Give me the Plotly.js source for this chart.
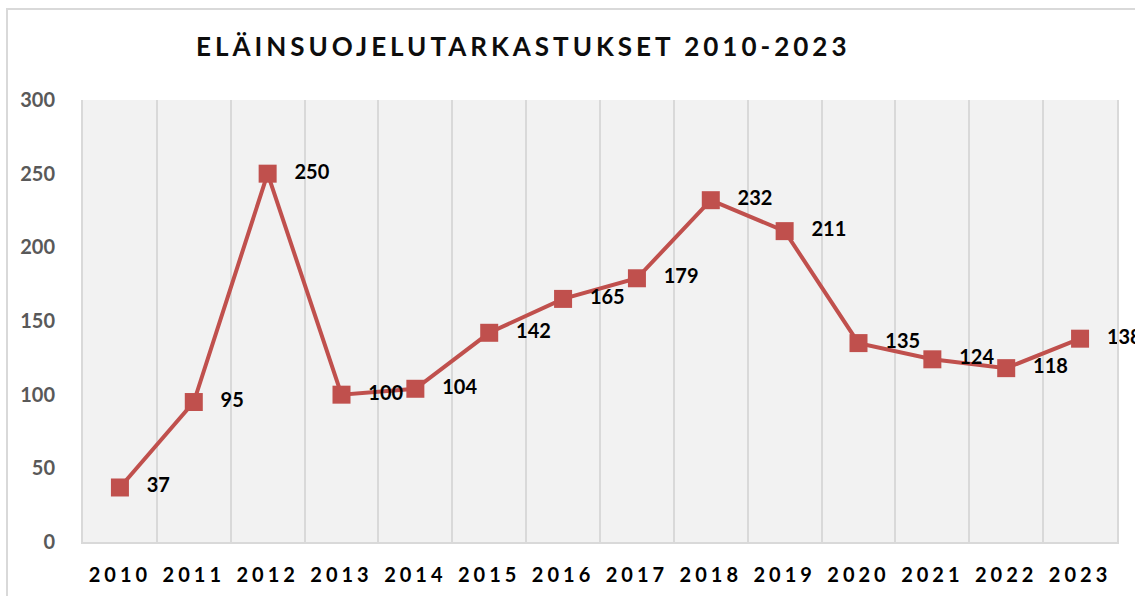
<!DOCTYPE html>
<html>
<head>
<meta charset="utf-8">
<script src="https://cdn.plot.ly/plotly-3.0.1.min.js"></script>
<style>
  html, body { margin: 0; padding: 0; background: #ffffff; }
  #wrap { position: relative; width: 1135px; height: 596px; overflow: hidden; }
  #frame { position: absolute; left: 6px; top: 8px; width: 1200px; height: 700px;
           border-left: 2px solid #d9d9d9; border-top: 2px solid #d9d9d9; box-sizing: border-box; }
  #chart { position: absolute; left: 0; top: 0; width: 1135px; height: 596px; }
  .xtick text { letter-spacing: 4px; }
  .gtitle { letter-spacing: 4px; }
</style>
</head>
<body>
<div id="wrap">
  <div id="frame"></div>
  <div id="chart"></div>
</div>
<script>
const years = ["2010","2011","2012","2013","2014","2015","2016","2017","2018","2019","2020","2021","2022","2023"];
const inspections = [37, 95, 250, 100, 104, 142, 165, 179, 232, 211, 135, 124, 118, 138];
const yTicks = [0, 50, 100, 150, 200, 250, 300];
const chartTitle = "ELÄINSUOJELUTARKASTUKSET 2010-2023";

const idx = years.map((_, i) => i);
const red = "#C0504D";
const pad = "\u00a0\u00a0\u00a0";

const trace = {
  x: idx,
  y: inspections,
  type: "scatter",
  mode: "lines+markers+text",
  line: { color: red, width: 4 },
  marker: { symbol: "square", size: 18, color: red },
  text: inspections.map(v => pad + String(v)),
  textposition: "middle right",
  textfont: { family: "Lato, 'Open Sans', sans-serif", size: 20, color: "#000000", weight: 700 },
  cliponaxis: false,
  hoverinfo: "skip"
};

const layout = {
  width: 1135,
  height: 596,
  margin: { l: 83, r: 18, t: 100, b: 54 },
  paper_bgcolor: "rgba(0,0,0,0)",
  plot_bgcolor: "#f2f2f2",
  showlegend: false,
  title: {
    text: chartTitle,
    font: { family: "Lato, 'Open Sans', sans-serif", size: 26, color: "#0d0d0d", weight: 700 },
    xref: "container", x: 0.461, xanchor: "center",
    yref: "container", y: 1 - 47 / 596, yanchor: "middle"
  },
  xaxis: {
    type: "linear",
    range: [-0.5, 13.5],
    tickmode: "array",
    tickvals: idx,
    ticktext: years,
    showgrid: false,
    zeroline: false,
    showline: true,
    linecolor: "#d9d9d9",
    linewidth: 2,
    ticks: "",
    ticklabelstandoff: 14,
    tickfont: { family: "Lato, 'Open Sans', sans-serif", size: 20, color: "#000000", weight: 700 },
    minor: { tickmode: "linear", tick0: -0.5, dtick: 1, showgrid: true, gridcolor: "#d9d9d9", gridwidth: 2, ticks: "" },
    fixedrange: true
  },
  yaxis: {
    range: [0, 300],
    tickmode: "array",
    tickvals: yTicks,
    showgrid: false,
    zeroline: false,
    showline: true,
    mirror: true,
    linecolor: "#d9d9d9",
    linewidth: 2,
    ticks: "",
    ticklabelstandoff: 22,
    tickfont: { family: "Lato, 'Open Sans', sans-serif", size: 20, color: "#595959", weight: 700 },
    fixedrange: true
  }
};

Plotly.newPlot("chart", [trace], layout, { displayModeBar: false, staticPlot: true });
</script>
</body>
</html>
